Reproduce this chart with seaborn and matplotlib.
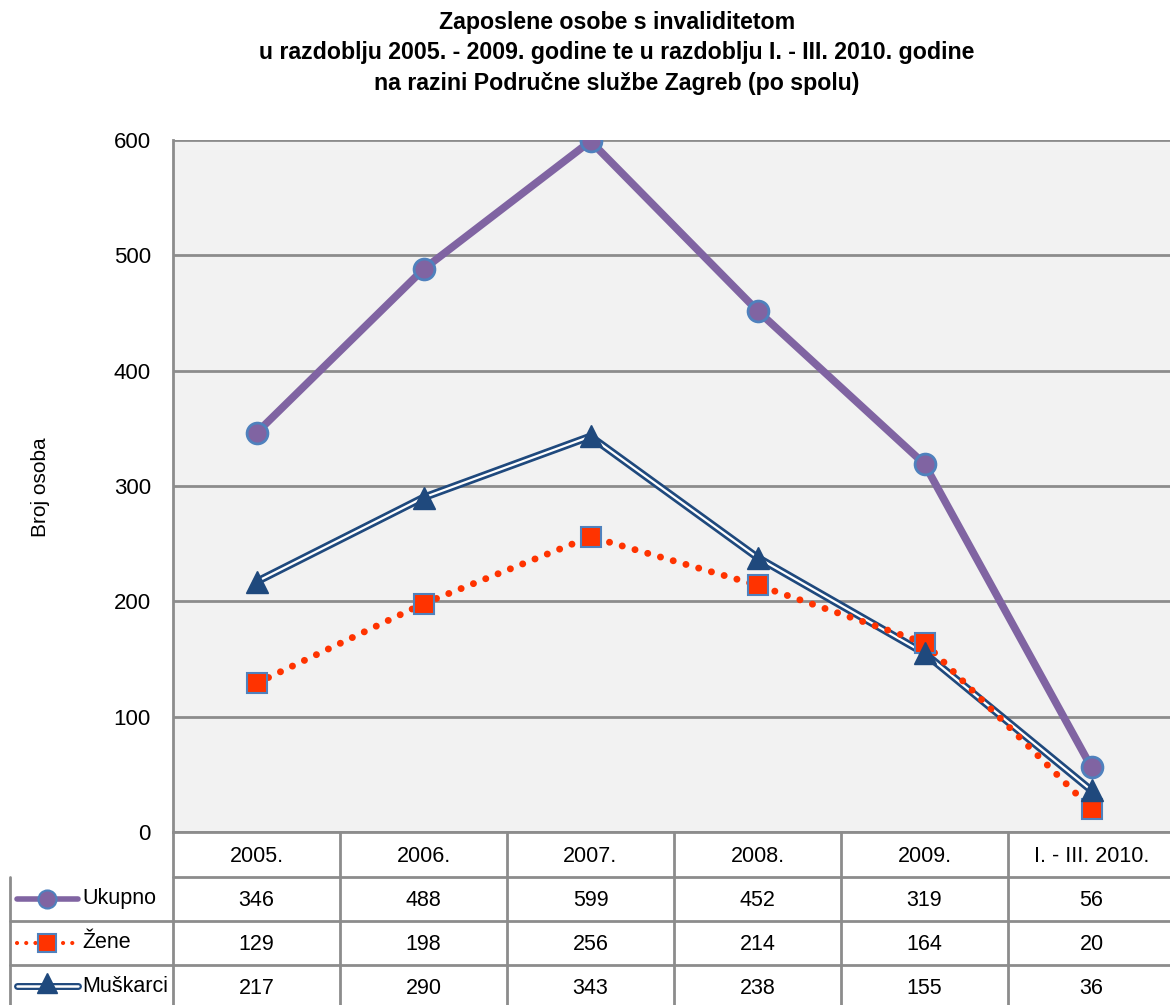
import matplotlib
matplotlib.use("Agg")
import matplotlib.pyplot as plt
import numpy as np
import pandas as pd
import seaborn as sns

# data
periods = ["2005.", "2006.", "2007.", "2008.", "2009.", "I. - III. 2010."]
ukupno = [346, 488, 599, 452, 319, 56]
zene = [129, 198, 256, 214, 164, 20]
muskarci = [217, 290, 343, 238, 155, 36]
series_names = ["Ukupno", "Žene", "Muškarci"]

title = ("Zaposlene osobe s invaliditetom\n"
         "u razdoblju 2005. - 2009. godine te u razdoblju I. - III. 2010. godine\n"
         "na razini Područne službe Zagreb (po spolu)")

sns.set_theme(style="white")
plt.rcParams["font.family"] = ["Liberation Sans", "DejaVu Sans"]
for k in ["text.color", "axes.labelcolor", "xtick.color", "ytick.color"]:
    plt.rcParams[k] = "black"

df = pd.DataFrame({"x": np.arange(len(periods)), "Ukupno": ukupno,
                   "Žene": zene, "Muškarci": muskarci})

W, H = 1170, 1005
fig = plt.figure(figsize=(11.7, 10.05), dpi=100)
ax = fig.add_axes([173 / W, 173 / H, 1002 / W, 692 / H])
ax.set_facecolor("#F2F2F2")

purple = "#8064A2"
edge = "#4F81BD"
red = "#FF3300"
navy = "#1F497D"

# Ukupno
sns.lineplot(data=df, x="x", y="Ukupno", ax=ax, color=purple, lw=5.5,
             marker="o", markersize=15, markerfacecolor=purple,
             markeredgecolor=edge, markeredgewidth=2, zorder=5)
# Muskarci (double line)
sns.lineplot(data=df, x="x", y="Muškarci", ax=ax, color=navy, lw=5.5, zorder=3)
sns.lineplot(data=df, x="x", y="Muškarci", ax=ax, color="white", lw=1.6, zorder=3.5)
ax.plot(df["x"], df["Muškarci"], ls="none", marker="^", markersize=16,
        color=navy, zorder=4.5)
# Zene
sns.lineplot(data=df, x="x", y="Žene", ax=ax, color=red, lw=5, zorder=4)
ax.lines[-1].set_linestyle((0, (0.01, 1.9)))
ax.lines[-1].set_dash_capstyle("round")
ax.plot(df["x"], df["Žene"], ls="none", marker="s", markersize=15,
        markerfacecolor=red, markeredgecolor=edge, markeredgewidth=1.5, zorder=4.2)

ax.set_xlim(-0.5, len(periods) - 0.5)
ax.set_ylim(0, 600)
ax.set_yticks(range(0, 601, 100))
ax.yaxis.grid(True, color="#8C8C8C", lw=2)
ax.set_axisbelow(True)
ax.set_xticks([])
ax.set_xlabel("")
ax.set_ylabel("")
ax.tick_params(axis="y", labelsize=16, pad=16, length=0)
for s in ["top", "right"]:
    ax.spines[s].set_visible(False)
for s in ["left", "bottom"]:
    ax.spines[s].set_color("#8C8C8C")
    ax.spines[s].set_linewidth(2)

fig.text(40 / W, 1 - 487 / H, "Broj osoba", rotation=90, fontsize=15,
         ha="center", va="center")
fig.text(0.527, 1 - 53 / H, title, ha="center", va="center", fontsize=16.7,
         fontweight="bold", linespacing=1.4)

# data table
tab = fig.add_axes([0, 0, 1, 173 / H])
tab.set_xlim(0, W)
tab.set_ylim(H, 832)
tab.axis("off")
gc = "#8C8C8C"
x0, cw = 173, 167
rows = [832, 877, 921, 965, 1009]
tab.plot([x0, W], [877, 877], color=gc, lw=2)
for y in rows[2:]:
    tab.plot([10, W], [y, y], color=gc, lw=2)
tab.plot([10, 10], [877, H], color=gc, lw=2)
for i in range(len(periods) + 1):
    xv = x0 + i * cw
    tab.plot([xv, xv], [832, H], color=gc, lw=2)
for i, p in enumerate(periods):
    tab.text(x0 + (i + 0.5) * cw, 856, p, ha="center", va="center", fontsize=15.5)
vals = [ukupno, zene, muskarci]
for r, (name, v) in enumerate(zip(series_names, vals)):
    yc = (rows[r + 1] + rows[r + 2]) / 2 + 1
    if r == 2:
        yc = 988
    for i, n in enumerate(v):
        tab.text(x0 + (i + 0.5) * cw, yc, str(n), ha="center", va="center", fontsize=15.5)
    tab.text(82, yc - 2, name, ha="left", va="center", fontsize=15.5)
# legend keys
yk = (rows[1] + rows[2]) / 2
tab.plot([17, 78], [yk, yk], color=purple, lw=4)
tab.plot([47], [yk], marker="o", ms=13, mfc=purple, mec=edge, mew=1.5)
yk = (rows[2] + rows[3]) / 2
tab.plot([17, 76], [yk, yk], color=red, lw=3, ls=(0, (0.01, 2.2)), dash_capstyle="round")
tab.plot([47], [yk], marker="s", ms=13, mfc=red, mec=edge, mew=1.5)
yk = 986
tab.plot([17, 78], [yk, yk], color=navy, lw=5)
tab.plot([17, 78], [yk, yk], color="white", lw=1.8)
tab.plot([47], [yk - 3], marker="^", ms=14, color=navy)

fig.savefig("out.png", dpi=100, facecolor="white")
